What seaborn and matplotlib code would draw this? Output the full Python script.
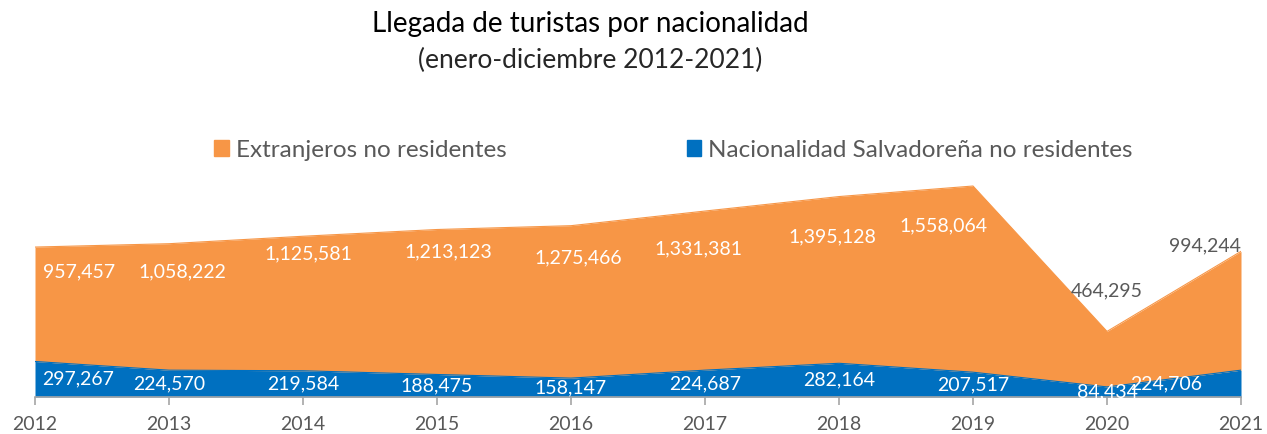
import numpy as np
import pandas as pd
import matplotlib
matplotlib.use('Agg')
import matplotlib.pyplot as plt
import seaborn as sns
from matplotlib.patches import Patch

# datos
years = [2012, 2013, 2014, 2015, 2016, 2017, 2018, 2019, 2020, 2021]
extranjeros = [957457, 1058222, 1125581, 1213123, 1275466, 1331381, 1395128, 1558064, 464295, 994244]
salvadorenos = [297267, 224570, 219584, 188475, 158147, 224687, 282164, 207517, 84434, 224706]

df = pd.DataFrame({'year': years, 'extranjeros': extranjeros, 'salvadorenos': salvadorenos})
df['total'] = df['extranjeros'] + df['salvadorenos']

sns.set_theme(style='white')
plt.rcParams['font.family'] = ['Lato', 'DejaVu Sans']

naranja = '#F79646'
azul = '#0070C0'
gris = '#595959'

fig = plt.figure(figsize=(12.67, 4.34), dpi=100)
ax = fig.add_axes([35/1267, 37/434, (1241-35)/1267, (397-158)/434])

ax.fill_between(df['year'], 0, df['salvadorenos'], color=azul, lw=0)
ax.fill_between(df['year'], df['salvadorenos'], df['total'], color=naranja, lw=0)
sns.lineplot(x='year', y='total', data=df, ax=ax, color=naranja, lw=0.8)
sns.lineplot(x='year', y='salvadorenos', data=df, ax=ax, color=azul, lw=0.8)

ax.set_xlim(2012, 2021)
ax.set_ylim(0, 2000000)
ax.set_xticks(years)
ax.set_xticklabels([str(y) for y in years], fontsize=14, color=gris)
ax.set_yticks([])
ax.set_xlabel('')
ax.set_ylabel('')
for s in ['top', 'right', 'left']:
    ax.spines[s].set_visible(False)
ax.spines['bottom'].set_color('#a6a6a6')
ax.spines['bottom'].set_linewidth(1.2)
ax.tick_params(axis='x', bottom=True, length=6, width=1.2, color='#a6a6a6', pad=8)

# etiquetas de datos (desplazamiento en puntos respecto al borde superior)
off_y = [-18, -20, -13, -16, -23, -27, -29, -29, 29, 4]
off_x = [0, 10, 4, 8, 5, -5, -5, -21, 0, 0]
for i, yr in enumerate(years):
    ha = 'center'
    dx = off_x[i]
    if i == 0:
        ha = 'left'
        dx = 6
    if i == len(years) - 1:
        ha = 'right'
        dx = 0
    col = 'white' if off_y[i] < 0 else gris
    ax.annotate(f'{extranjeros[i]:,}', (yr, df['total'][i]), xytext=(dx, off_y[i]),
                textcoords='offset points', ha=ha, va='center', fontsize=14,
                color=col)
    dxb = 0
    hab = 'center'
    if i == 0:
        hab = 'left'
        dxb = 5
    if i == len(years) - 1:
        hab = 'right'
        dxb = -28
    ax.annotate(f'{salvadorenos[i]:,}', (yr, salvadorenos[i] / 2), xytext=(dxb, 0),
                textcoords='offset points', ha=hab, va='center', fontsize=14,
                color='white')

fig.text(0.466, 0.945, 'Llegada de turistas por nacionalidad', ha='center', va='center',
         fontsize=20, color='black')
fig.text(0.466, 0.86, '(enero-diciembre 2012-2021)', ha='center', va='center',
         fontsize=19, color='#262626')

handles = [Patch(color=naranja), Patch(color=azul)]
leg = fig.legend(handles, ['Extranjeros no residentes', 'Nacionalidad Salvadoreña no residentes'],
                 loc='center', bbox_to_anchor=(0.5316, 0.654), ncol=2, frameon=False,
                 fontsize=17.5, handlelength=0.6, handleheight=0.6, handletextpad=0.3,
                 columnspacing=7.4, labelcolor=gris)

fig.savefig('out.png', dpi=100)
